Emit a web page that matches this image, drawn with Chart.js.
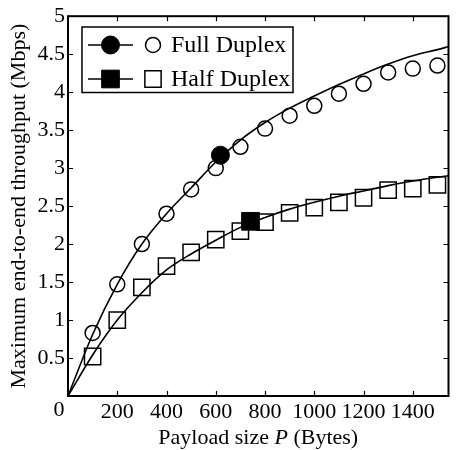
<!DOCTYPE html>
<html>
<head>
<meta charset="utf-8">
<script src="https://cdn.jsdelivr.net/npm/chart.js@4.4.1/dist/chart.umd.min.js"></script>
<style>
  html, body { margin: 0; padding: 0; background: #fff; overflow: hidden; }
  #wrap { width: 462px; height: 450px; }
</style>
</head>
<body>
<div id="wrap"><canvas id="chart" width="462" height="450"></canvas></div>
<script>
// axis ticks
const xTicks = [0, 200, 400, 600, 800, 1000, 1200, 1400];
const yTicks = [0, 0.5, 1, 1.5, 2, 2.5, 3, 3.5, 4, 4.5, 5];

// analytical curves
const fullLineX = [0, 100, 200, 300, 400, 500, 600, 700, 800, 900, 1000, 1100, 1200, 1300, 1400, 1500, 1545];
const fullLineY = [0, 0.81, 1.47, 2.0, 2.4, 2.74, 3.08, 3.37, 3.6, 3.79, 3.95, 4.1, 4.24, 4.37, 4.48, 4.56, 4.6];
const halfLineX = [0, 100, 200, 300, 400, 500, 600, 700, 800, 900, 1000, 1100, 1200, 1300, 1400, 1500, 1545];
const halfLineY = [0, 0.54, 1.0, 1.36, 1.66, 1.87, 2.05, 2.22, 2.35, 2.46, 2.55, 2.63, 2.7, 2.77, 2.83, 2.88, 2.9];

// simulation points
const simX = [100, 200, 300, 400, 500, 600, 700, 800, 900, 1000, 1100, 1200, 1300, 1400, 1500];
const fullSim = [0.83, 1.47, 2.0, 2.4, 2.72, 3.0, 3.28, 3.52, 3.69, 3.82, 3.98, 4.11, 4.26, 4.31, 4.35];
const halfSim = [0.52, 1.0, 1.43, 1.71, 1.89, 2.06, 2.17, 2.29, 2.41, 2.48, 2.55, 2.61, 2.71, 2.73, 2.78];

// highlighted points
const fullMark = [619, 3.17];
const halfMark = [741, 2.30];

const legendLabels = ['Full Duplex', 'Half Duplex'];
const xTitleParts = ['Payload size ', 'P', ' (Bytes)'];
const yTitle = 'Maximum end-to-end throughput (Mbps)';

const SERIF = '"Liberation Serif", "Times New Roman", serif';

function pts(xs, ys) {
  return xs.map((x, i) => ({ x, y: ys[i] }));
}

const fullFilled = { pointStyle: 'circle', radius: 9, backgroundColor: '#000', borderColor: '#000', borderWidth: 1 };
const fullOpen = { pointStyle: 'circle', radius: 7.5, backgroundColor: 'rgba(0,0,0,0)', borderColor: '#000', borderWidth: 1.5 };
const halfFilled = { pointStyle: 'rect', radius: 12.5, backgroundColor: '#000', borderColor: '#000', borderWidth: 1 };
const halfOpen = { pointStyle: 'rect', radius: 11.5, backgroundColor: 'rgba(0,0,0,0)', borderColor: '#000', borderWidth: 1.5 };

function legendMarker(ctx, st, x, y) {
  ctx.fillStyle = st.backgroundColor;
  ctx.strokeStyle = st.borderColor;
  ctx.lineWidth = st.borderWidth;
  Chart.helpers.drawPoint(ctx, st, x, y);
}

// box + inward ticks + legend + x title with italic P
const framePlugin = {
  id: 'frame',
  afterDraw(chart) {
    const { ctx, chartArea: a, scales } = chart;
    const xs = scales.x, ys = scales.y;
    ctx.save();
    ctx.strokeStyle = '#000';
    ctx.lineWidth = 2;
    ctx.strokeRect(a.left, a.top, a.right - a.left, a.bottom - a.top);

    ctx.lineWidth = 1.2;
    ctx.beginPath();
    xTicks.forEach(v => {
      if (v === 0) return;
      const px = Math.round(xs.getPixelForValue(v)) + 0.5;
      ctx.moveTo(px, a.bottom); ctx.lineTo(px, a.bottom - 5);
      ctx.moveTo(px, a.top); ctx.lineTo(px, a.top + 5);
    });
    yTicks.forEach(v => {
      if (v === 0 || v === 5) return;
      const py = Math.round(ys.getPixelForValue(v)) + 0.5;
      ctx.moveTo(a.left, py); ctx.lineTo(a.left + 5, py);
      ctx.moveTo(a.right, py); ctx.lineTo(a.right - 5, py);
    });
    ctx.stroke();

    // origin label
    ctx.fillStyle = '#000';
    ctx.font = '22px ' + SERIF;
    ctx.textAlign = 'center';
    ctx.textBaseline = 'middle';
    ctx.fillText('0', 59, 410);

    // x title
    const fonts = ['22px ' + SERIF, 'italic 22px ' + SERIF, '22px ' + SERIF];
    let total = 0;
    const widths = xTitleParts.map((t, i) => { ctx.font = fonts[i]; const w = ctx.measureText(t).width; total += w; return w; });
    let tx = (a.left + a.right) / 2 - total / 2;
    ctx.textAlign = 'left';
    xTitleParts.forEach((t, i) => { ctx.font = fonts[i]; ctx.fillText(t, tx, 438); tx += widths[i]; });

    // legend
    ctx.fillStyle = '#fff';
    ctx.fillRect(82, 27, 211, 65.5);
    ctx.strokeStyle = '#000';
    ctx.lineWidth = 1.5;
    ctx.strokeRect(82, 27, 211, 65.5);
    const rows = [[45, fullFilled, fullOpen], [79, halfFilled, halfOpen]];
    rows.forEach(([y, filled, open], i) => {
      ctx.strokeStyle = '#000';
      ctx.lineWidth = 1.6;
      ctx.beginPath(); ctx.moveTo(88, y); ctx.lineTo(133, y); ctx.stroke();
      legendMarker(ctx, filled, 110.5, y);
      legendMarker(ctx, open, 153, y);
      ctx.fillStyle = '#000';
      ctx.font = '24px ' + SERIF;
      ctx.textAlign = 'left';
      ctx.textBaseline = 'middle';
      ctx.fillText(legendLabels[i], 171, y + 1);
    });
    ctx.restore();
  }
};

function markerSet(data, st, order) {
  return {
    data, order, showLine: false,
    pointStyle: st.pointStyle, pointRadius: st.radius, pointHoverRadius: st.radius,
    pointBackgroundColor: st.backgroundColor, pointBorderColor: st.borderColor,
    pointBorderWidth: st.borderWidth
  };
}

function lineSet(data) {
  return {
    data, order: 3, showLine: true, pointRadius: 0,
    borderColor: '#000', borderWidth: 1.6, cubicInterpolationMode: 'monotone', fill: false
  };
}

function drawChart() {
  new Chart(document.getElementById('chart'), {
    type: 'scatter',
    data: {
      datasets: [
        markerSet([{ x: fullMark[0], y: fullMark[1] }], fullFilled, 0),
        markerSet([{ x: halfMark[0], y: halfMark[1] }], halfFilled, 0),
        markerSet(pts(simX, fullSim), fullOpen, 1),
        markerSet(pts(simX, halfSim), halfOpen, 1),
        lineSet(pts(fullLineX, fullLineY)),
        lineSet(pts(halfLineX, halfLineY))
      ]
    },
    options: {
      responsive: false,
      animation: false,
      devicePixelRatio: 1,
      layout: { padding: { top: 15, right: 2, left: 0, bottom: 0 } },
      plugins: { legend: { display: false }, tooltip: { enabled: false } },
      scales: {
        x: {
          type: 'linear', min: 0, max: 1545,
          afterFit: s => { s.height = 54; },
          grid: { display: false, drawTicks: false },
          border: { display: false },
          ticks: {
            stepSize: 200, includeBounds: false, maxRotation: 0, autoSkip: false, padding: 3,
            color: '#000', font: { family: SERIF, size: 22 },
            callback: v => (v === 0 ? '' : String(v))
          }
        },
        y: {
          type: 'linear', min: 0, max: 5,
          afterFit: s => { s.width = 68; },
          grid: { display: false, drawTicks: false },
          border: { display: false },
          title: { display: true, text: yTitle, color: '#000', font: { family: SERIF, size: 22 }, padding: { top: 6, bottom: 0 } },
          ticks: {
            stepSize: 0.5, padding: 3, autoSkip: false,
            color: '#000', font: { family: SERIF, size: 22 },
            callback: v => (v === 0 ? '' : String(v))
          }
        }
      }
    },
    plugins: [framePlugin]
  });
}

// make sure the serif face is ready before the first paint
Promise.all([
  document.fonts.load('22px "Liberation Serif"'),
  document.fonts.load('italic 22px "Liberation Serif"')
]).then(drawChart, drawChart);
</script>
</body>
</html>
